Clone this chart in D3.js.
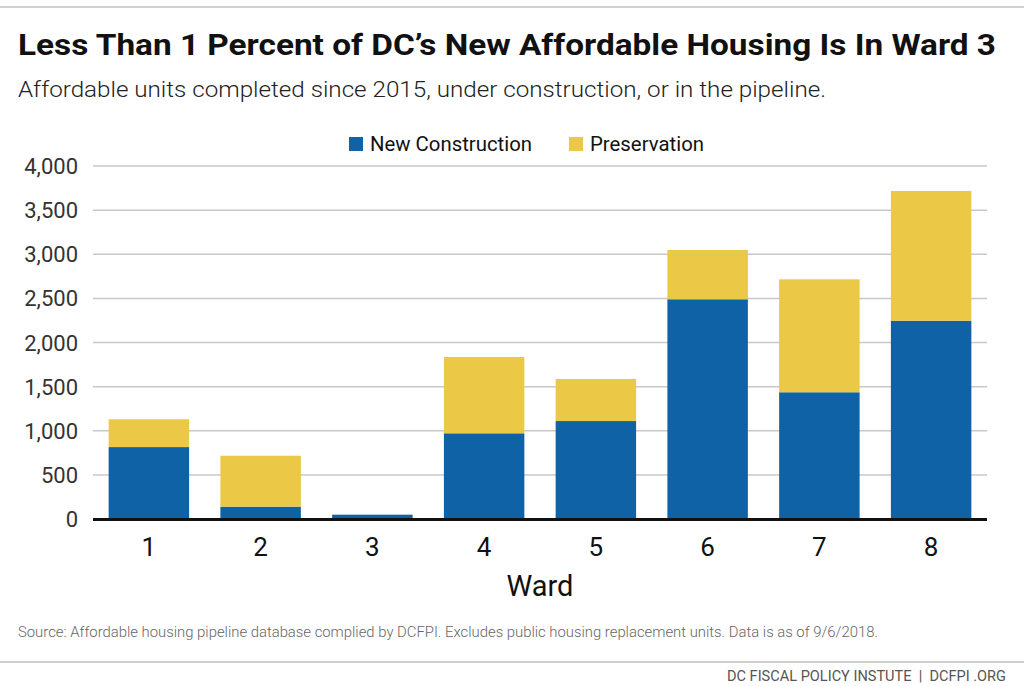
<!DOCTYPE html>
<html>
<head>
<meta charset="utf-8">
<script src="https://cdn.jsdelivr.net/npm/d3@7"></script>
<style>
  body { margin: 0; background: #fff; }
  svg { display: block; font-family: Roboto, "Noto Sans", sans-serif; }
</style>
</head>
<body>
<svg width="1024" height="686"></svg>
<script>

var wards = ["1", "2", "3", "4", "5", "6", "7", "8"];
var newConstruction = [815, 140, 49, 971, 1110, 2490, 1436, 2247];
var preservation = [315, 577, 0, 865, 476, 558, 1280, 1470];
var yTicks = [0, 500, 1000, 1500, 2000, 2500, 3000, 3500, 4000];
var seriesNames = ["New Construction", "Preservation"];
var seriesColors = ["#0e62a5", "#ebc846"];

var svg = d3.select("svg");

var plotLeft = 93, plotRight = 987, plotTop = 166, plotBottom = 519;

// header / footer rules
svg.append("line").attr("x1", 0).attr("x2", 1024).attr("y1", 7).attr("y2", 7)
    .attr("stroke", "#d0d0d0").attr("stroke-width", 2);
svg.append("line").attr("x1", 0).attr("x2", 1024).attr("y1", 662).attr("y2", 662)
    .attr("stroke", "#d0d0d0").attr("stroke-width", 2);

svg.append("text").attr("x", 18).attr("y", 55)
    .attr("font-size", 30).attr("font-weight", 700).attr("fill", "#111")
    .attr("textLength", 978).attr("lengthAdjust", "spacingAndGlyphs")
    .text("Less Than 1 Percent of DC\u2019s New Affordable Housing Is In Ward 3");

svg.append("text").attr("x", 18).attr("y", 97)
    .attr("font-size", 22).attr("font-weight", 300).attr("fill", "#222")
    .attr("textLength", 808).attr("lengthAdjust", "spacingAndGlyphs")
    .text("Affordable units completed since 2015, under construction, or in the pipeline.");

var x = d3.scaleBand().domain(wards).range([plotLeft, plotRight]).paddingInner(0.28).paddingOuter(0.14);
var y = d3.scaleLinear().domain([0, 4000]).range([plotBottom, plotTop]);

// gridlines
svg.append("g").selectAll("line").data(yTicks.slice(1)).join("line")
    .attr("x1", plotLeft).attr("x2", plotRight)
    .attr("y1", function(d) { return y(d); }).attr("y2", function(d) { return y(d); })
    .attr("stroke", "#c8c8c8").attr("stroke-width", 1.5);

// y labels
svg.append("g").selectAll("text").data(yTicks).join("text")
    .attr("x", 78).attr("y", function(d) { return y(d) + 8; })
    .attr("text-anchor", "end").attr("font-size", 22).attr("fill", "#333")
    .text(d3.format(","));

var rows = wards.map(function(w, i) {
  return { ward: w, nc: newConstruction[i], pr: preservation[i] };
});
var stack = d3.stack().keys(["nc", "pr"])(rows);

svg.append("g").selectAll("g").data(stack).join("g")
    .attr("fill", function(d, i) { return seriesColors[i]; })
  .selectAll("rect").data(function(d) { return d; }).join("rect")
    .attr("x", function(d) { return x(d.data.ward); })
    .attr("width", x.bandwidth())
    .attr("y", function(d) { return y(d[1]); })
    .attr("height", function(d) { return y(d[0]) - y(d[1]); });

// baseline
svg.append("line").attr("x1", plotLeft).attr("x2", plotRight)
    .attr("y1", plotBottom + 0.5).attr("y2", plotBottom + 0.5)
    .attr("stroke", "#111").attr("stroke-width", 3);

// x labels
svg.append("g").selectAll("text").data(wards).join("text")
    .attr("x", function(d) { return x(d) + x.bandwidth() / 2; })
    .attr("y", 556).attr("text-anchor", "middle")
    .attr("font-size", 26).attr("fill", "#111").text(function(d) { return d; });

svg.append("text").attr("x", (plotLeft + plotRight) / 2).attr("y", 596)
    .attr("text-anchor", "middle").attr("font-size", 29).attr("fill", "#111").text("Ward");

// legend
var legendX = [349, 569];
var legendW = [162, 114];
var lg = svg.append("g").selectAll("g").data(seriesNames).join("g")
    .attr("transform", function(d, i) { return "translate(" + legendX[i] + ",137)"; });
lg.append("rect").attr("width", 14).attr("height", 14)
    .attr("fill", function(d, i) { return seriesColors[i]; });
lg.append("text").attr("x", 21).attr("y", 14).attr("font-size", 20).attr("fill", "#111")
    .attr("textLength", function(d, i) { return legendW[i]; })
    .attr("lengthAdjust", "spacingAndGlyphs")
    .text(function(d) { return d; });

svg.append("text").attr("x", 18).attr("y", 637)
    .attr("font-size", 14).attr("font-weight", 300).attr("fill", "#666")
    .attr("textLength", 860).attr("lengthAdjust", "spacingAndGlyphs")
    .text("Source: Affordable housing pipeline database complied by DCFPI. Excludes public housing replacement units. Data is as of 9/6/2018.");

svg.append("text").attr("x", 1006).attr("y", 681)
    .attr("text-anchor", "end").attr("font-size", 14).attr("fill", "#555")
    .attr("textLength", 279).attr("lengthAdjust", "spacingAndGlyphs")
    .text("DC FISCAL POLICY INSTUTE \u00a0|\u00a0 DCFPI .ORG");

</script>
</body>
</html>
